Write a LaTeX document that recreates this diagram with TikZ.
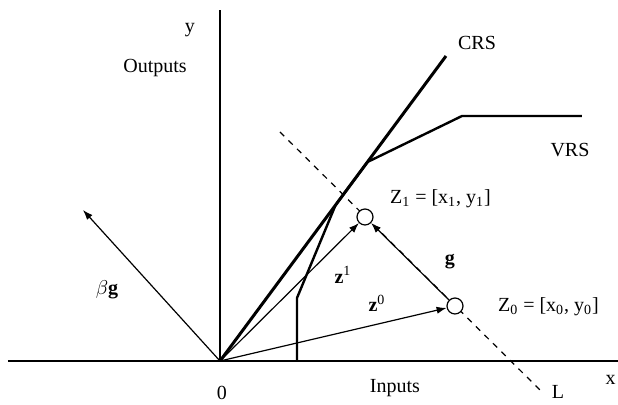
\documentclass[tikz,border=0pt]{standalone}
\usepackage{fontspec}
\setmainfont{Liberation Serif}
\usepackage{tikz}
\usetikzlibrary{arrows.meta,calc,positioning}
\tikzset{
  vec/.style={-{Latex[length=5pt,width=3.6pt]},line width=0.6pt},
  frontier/.style={line width=1.2pt,line join=round},
  obs/.style={circle,draw,fill=white,line width=0.6pt,minimum size=8pt,inner sep=0pt},
  lbl/.style={font=\fontsize{10}{12}\selectfont}
}

\begin{document}
\begin{tikzpicture}[x=0.5pt,y=0.5pt]
  \useasboundingbox (-220,-44) rectangle (398,361);
  \coordinate (O) at (0,0);
  % axes
  \draw[line width=0.6pt] (-212,0) -- (398,0);
  \draw[line width=0.6pt] (O) -- (0,351);
  \node[lbl] at (-30,331) {y};
  \node[lbl] at (-65,293) {Outputs};
  \node[lbl,anchor=east,inner xsep=1pt] at (398,-19) {x};
  \node[lbl] at (2,-32) {0};
  \node[lbl] at (175,-27) {Inputs};
  % frontiers
  \coordinate (crsend) at (226,305);
  \draw[frontier,line width=1.5pt] (O) -- (crsend);
  \node[lbl] at (257,318) {CRS};
  \draw[frontier] (77,0) -- (77,63) -- (115.6,156) -- (147.5,199) -- (242,245) -- (362,245);
  \node[lbl] at (350,211) {VRS};
  % line L and the two points
  \coordinate (Ltop) at (60,229);
  \coordinate (Lbot) at (320,-29);
  \draw[dashed,line width=0.6pt] (Ltop) -- (Lbot);
  \node[lbl] at (338,-31) {L};
  \node[obs] (Z1) at (145,144) {};
  \node[obs] (Z0) at (235,55) {};
  \node[lbl,anchor=west] at (163,162) {Z\textsubscript{1} = [x\textsubscript{1}, y\textsubscript{1}]};
  \node[lbl,anchor=west] at (271,54) {Z\textsubscript{0} = [x\textsubscript{0}, y\textsubscript{0}]};
  % vectors
  \draw[vec] (O) -- (Z1);
  \draw[vec] (O) -- (Z0);
  \draw[vec] (Z0) -- (Z1);
  \coordinate (bg) at (-137,151);
  \draw[vec] (O) -- (bg);
  \node[lbl] at (123,86) {\textbf{z}\textsuperscript{1}};
  \node[lbl] at (157,58) {\textbf{z}\textsuperscript{0}};
  \node[lbl] at (230,99) {\textbf{g}};
  \node[lbl] at (-113,71) {$\beta$\textbf{g}};
\end{tikzpicture}
\end{document}
